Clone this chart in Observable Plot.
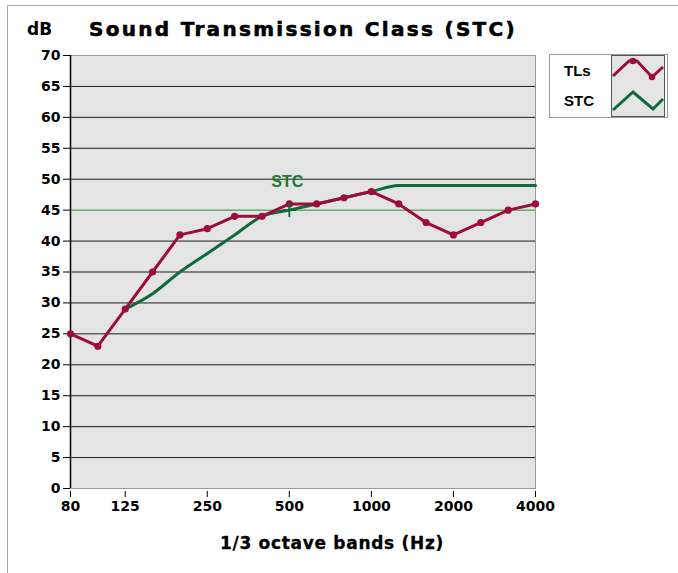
<!DOCTYPE html>
<html>
<head>
<meta charset="utf-8">
<script src="https://cdn.jsdelivr.net/npm/d3@7"></script>
<script src="https://cdn.jsdelivr.net/npm/@observablehq/plot@0.6"></script>
<style>
  html, body { margin: 0; padding: 0; background: #fff; }
  #wrap { position: relative; width: 678px; height: 573px; overflow: hidden; font-family: "DejaVu Sans", sans-serif; }
  #outer { position: absolute; left: 7px; top: 5px; width: 680px; height: 580px; border-left: 1px solid #a8a8a8; border-top: 1px solid #a8a8a8; }
  #chart { position: absolute; left: 0; top: 0; }
  .t { position: absolute; white-space: nowrap; font-weight: bold; color: #000; }
  #legend { position: absolute; left: 549px; top: 54px; width: 119px; height: 64px; box-sizing: border-box; border: 1px solid #9a9a9a; background: #fff; }
  .lg { position: absolute; font-family: "Liberation Sans", Arial, sans-serif; font-weight: bold; font-size: 15px; line-height: 15px; }
</style>
</head>
<body>
<div id="wrap">
  <div id="outer"></div>
  <div id="chart"></div>
  <div class="t" id="dbl" style="left:27px; top:20px; font-size:17px; line-height:19px;">dB</div>
  <div class="t" id="title" style="left:89px; top:19px; font-size:20px; line-height:20px; letter-spacing:2.3px; -webkit-text-stroke:0.6px #000;">Sound Transmission Class (STC)</div>
  <div class="t" id="xlabel" style="left:0; width:664px; text-align:center; top:534px; font-size:17px; line-height:18px; letter-spacing:0.7px; -webkit-text-stroke:0.3px #000;">1/3 octave bands (Hz)</div>
  <div id="legend">
    <div class="lg" style="left:14px; top:8px;">TLs</div>
    <div class="lg" style="left:14px; top:38px;">STC</div>
  </div>
</div>
<script>
// ---- data ----
const bands = [80, 100, 125, 160, 200, 250, 315, 400, 500, 630, 800, 1000, 1250, 1600, 2000, 2500, 3150, 4000];
const tlValues = [25, 23, 29, 35, 41, 42, 44, 44, 46, 46, 47, 48, 46, 43, 41, 43, 45, 46];
const stcContour = [null, null, 29, 31.5, 35, 38, 41, 44, 45, 46, 47, 48, 49, 49, 49, 49, 49, 49];
const stcRating = 45;
const stcRefBand = 500;
const xTickLabels = [80, 125, 250, 500, 1000, 2000, 4000];
const yTicks = [0, 5, 10, 15, 20, 25, 30, 35, 40, 45, 50, 55, 60, 65, 70];

const maroon = "#9c0c3c";
const green = "#0e6b38";
const lightGreen = "#2f8f2f";

const tl = bands.map((b, i) => ({i, band: b, v: tlValues[i]}));
const stc = bands.map((b, i) => ({i, band: b, v: stcContour[i]})).filter(d => d.v != null);
const xTickIdx = xTickLabels.map(v => bands.indexOf(v));
const refIdx = bands.indexOf(stcRefBand);

const chart = Plot.plot({
  width: 678,
  height: 573,
  marginLeft: 70,
  marginRight: 143,
  marginTop: 55,
  marginBottom: 85,
  x: {domain: [0, bands.length - 1]},
  y: {domain: [0, 70]},
  style: {background: "transparent", fontFamily: "DejaVu Sans", fontSize: "14px", fontWeight: "bold", color: "#000", overflow: "visible"},
  marks: [
    Plot.frame({fill: "#e4e4e4", stroke: "#9a9a9a"}),
    Plot.ruleY(yTicks.filter(v => v > 0 && v < 70 && v !== stcRating), {stroke: "#1e1e1e", strokeWidth: 1}),
    Plot.ruleY([stcRating], {stroke: lightGreen, strokeWidth: 1}),
    Plot.ruleX([0], {stroke: "#000", strokeWidth: 1.5}),
    Plot.axisY({ticks: yTicks, tickSize: 7, tickPadding: 3, label: null, stroke: "#000"}),
    Plot.axisX({ticks: xTickIdx, tickFormat: i => String(bands[i]), tickSize: 6, tickPadding: 4, dy: 3, label: null, stroke: "#000"}),
    Plot.line(stc, {x: "i", y: "v", stroke: green, strokeWidth: 3, curve: "monotone-x"}),
    Plot.line(tl, {x: "i", y: "v", stroke: maroon, strokeWidth: 3}),
    Plot.dot(tl, {x: "i", y: "v", r: 3.6, fill: maroon}),
    Plot.dot([{i: refIdx, v: stcRating}], {x: "i", y: "v", symbol: "plus", r: 4.5, stroke: green, strokeWidth: 1.8}),
    Plot.text([{i: refIdx, v: stcRating}], {x: "i", y: "v", text: () => "STC", dy: -23, dx: -2, lineAnchor: "bottom", fill: "#1b7a2d", fontSize: 16, fontWeight: "bold", fontFamily: "Liberation Sans"})
  ]
});
document.getElementById("chart").appendChild(chart);

// legend swatch (decorative)
const sw = d3.select("#wrap").append("svg")
  .style("position", "absolute").style("left", "611px").style("top", "55px")
  .attr("width", 54).attr("height", 62);
sw.append("rect").attr("x", 0.5).attr("y", 0.5).attr("width", 53).attr("height", 61)
  .attr("fill", "#e4e4e4").attr("stroke", "#555");
sw.append("polyline").attr("points", "2,21 18,6 26,6 41,22 52,12")
  .attr("fill", "none").attr("stroke", maroon).attr("stroke-width", 3);
sw.selectAll("circle.m").data([[22,6],[41,22]]).join("circle")
  .attr("cx", d => d[0]).attr("cy", d => d[1]).attr("r", 3.3).attr("fill", maroon);
sw.append("polyline").attr("points", "2,55 22,37 42,54 52,44")
  .attr("fill", "none").attr("stroke", green).attr("stroke-width", 3);
</script>
</body>
</html>
